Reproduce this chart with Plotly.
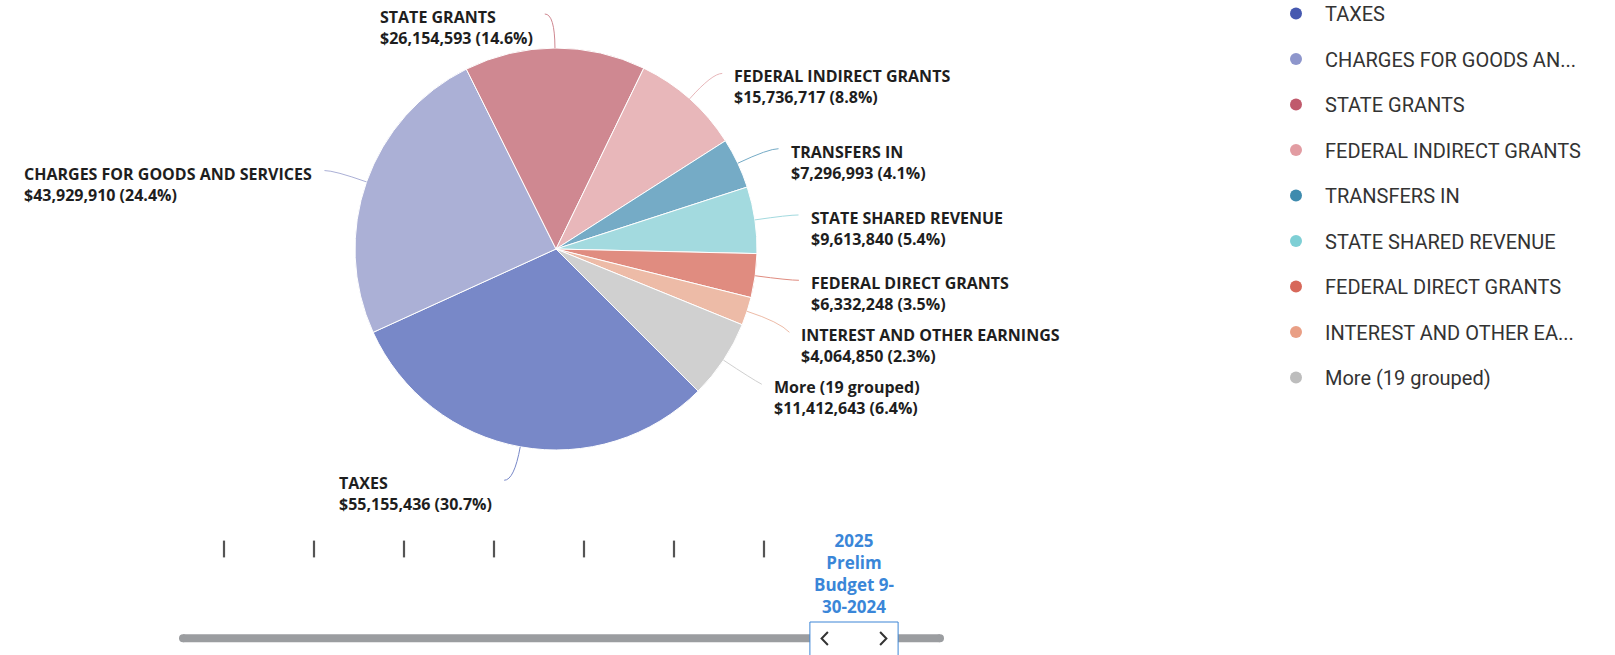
import math
import plotly.graph_objects as go

# revenue categories, FY2025 prelim budget
categories = [
    "TAXES",
    "CHARGES FOR GOODS AND SERVICES",
    "STATE GRANTS",
    "FEDERAL INDIRECT GRANTS",
    "TRANSFERS IN",
    "STATE SHARED REVENUE",
    "FEDERAL DIRECT GRANTS",
    "INTEREST AND OTHER EARNINGS",
    "More (19 grouped)",
]
amounts = [55155436, 43929910, 26154593, 15736717, 7296993, 9613840, 6332248, 4064850, 11412643]
legend_labels = [
    "TAXES",
    "CHARGES FOR GOODS AN...",
    "STATE GRANTS",
    "FEDERAL INDIRECT GRANTS",
    "TRANSFERS IN",
    "STATE SHARED REVENUE",
    "FEDERAL DIRECT GRANTS",
    "INTEREST AND OTHER EA...",
    "More (19 grouped)",
]
slice_colors = ["#7888C8", "#ABB0D6", "#CF8891", "#E8B7BA", "#75ABC6",
                "#A3DADF", "#E08C80", "#EDBBA7", "#D0D0D0"]
legend_colors = ["#4659B0", "#8E96CC", "#C05A6C", "#E29CA2", "#3E8BAE",
                 "#7ECFD5", "#D7685A", "#E99F85", "#BDBDBD"]

# timeline steps (only the selected one is labelled)
timeline_steps = ["", "", "", "", "", "", "", "2025<br>Prelim<br>Budget 9-<br>30-2024"]
selected_step = 7

W, H = 1615, 655
CX, CY, R = 556, 249, 201
START = 135  # degrees clockwise from 12 o'clock
MIN_GAP = 52  # min vertical spacing between stacked labels


# pixel -> paper fraction
def px(x):
    return x / W


def py(y):
    return 1 - y / H


total = sum(amounts)

fig = go.Figure()

fig.add_trace(go.Pie(
    labels=categories, values=amounts, sort=False, direction="clockwise",
    rotation=START, textinfo="none", showlegend=False,
    marker=dict(colors=slice_colors, line=dict(color="white", width=1)),
    domain=dict(x=[px(CX - R), px(CX + R)], y=[py(CY + R), py(CY - R)]),
))

# legend entries as dummy markers
for name, col in zip(legend_labels, legend_colors):
    fig.add_trace(go.Scatter(
        x=[None], y=[None], mode="markers", name=name, legendgroup=name,
        marker=dict(color=col, size=12), xaxis="x", yaxis="y",
    ))

# timeline ticks
tick_idx = [i for i in range(len(timeline_steps)) if i != selected_step]
fig.add_trace(go.Scatter(
    x=tick_idx, y=[549] * len(tick_idx), mode="markers", showlegend=False,
    hoverinfo="skip",
    marker=dict(symbol="line-ns", size=12, line=dict(width=2.2, color="#555555")),
))

shapes = []
annotations = []

# label anchor points from each slice's mid angle
labels = []
cum = 0
for name, val, col in zip(categories, amounts, slice_colors):
    mid = START + (cum + val / 2) / total * 360
    cum += val
    a = math.radians(mid)
    dx, dy = math.sin(a), -math.cos(a)
    labels.append(dict(name=name, val=val, col=col, dx=dx, dy=dy, right=dx > 0,
                       ly=CY + (R + 34) * dy))

# push overlapping labels down on each side
for side in (True, False):
    group = sorted([l for l in labels if l["right"] == side], key=lambda l: l["ly"])
    for prev, cur in zip(group, group[1:]):
        if cur["ly"] < prev["ly"] + MIN_GAP:
            cur["ly"] = prev["ly"] + MIN_GAP

for l in labels:
    sgn = 1 if l["right"] else -1
    x0, y0 = CX + R * l["dx"], CY + R * l["dy"]
    x1, y1 = CX + (R + 34) * l["dx"], CY + (R + 34) * l["dy"]
    x2, y2 = x1 + sgn * 10, l["ly"]
    shapes.append(dict(
        type="path", xref="paper", yref="paper",
        path=f"M {px(x0)},{py(y0)} Q {px(x1)},{py(y1)} {px(x2)},{py(y2)}",
        line=dict(color=l["col"], width=1),
    ))
    val = l["val"]
    txt = f"<b>{l['name']}</b><br><b>${val:,.0f} ({val / total * 100:.1f}%)</b>"
    annotations.append(dict(
        xref="paper", yref="paper", x=px(x2 + sgn * 10), y=py(y2 - 10),
        xanchor="left" if l["right"] else "right", yanchor="top", align="left",
        showarrow=False, text=txt,
        font=dict(family="Open Sans", size=16, color="#1e1e1e"),
    ))

# timeline track
shapes += [
    dict(type="rect", xref="x", yref="y", x0=-0.456, x1=7.956, y0=634.3, y1=642.3,
         fillcolor="#9B9DA0", line=dict(width=0), layer="below"),
    dict(type="circle", xref="x", yref="y", x0=-0.5, x1=-0.411, y0=634.3, y1=642.3,
         fillcolor="#9B9DA0", line=dict(width=0), layer="below"),
    dict(type="circle", xref="x", yref="y", x0=7.911, x1=8.0, y0=634.3, y1=642.3,
         fillcolor="#9B9DA0", line=dict(width=0), layer="below"),
    dict(type="rect", xref="x", yref="y", x0=selected_step - 0.49, x1=selected_step + 0.49,
         y0=622, y1=670, fillcolor="white", line=dict(color="#3D85D6", width=1)),
    dict(type="path", xref="x", yref="y",
         path=f"M {selected_step - 0.29},632 L {selected_step - 0.36},638.5 L {selected_step - 0.29},645",
         line=dict(color="#333333", width=2)),
    dict(type="path", xref="x", yref="y",
         path=f"M {selected_step + 0.29},632 L {selected_step + 0.36},638.5 L {selected_step + 0.29},645",
         line=dict(color="#333333", width=2)),
]

annotations.append(dict(
    xref="x", yref="y", x=selected_step, y=573.5, xanchor="center", yanchor="middle",
    showarrow=False, align="center", text=f"<b>{timeline_steps[selected_step]}</b>",
    font=dict(family="Open Sans", size=17, color="#3A86D8"),
))

fig.update_layout(
    width=W, height=H,
    margin=dict(l=0, r=0, t=0, b=0, autoexpand=False),
    paper_bgcolor="white", plot_bgcolor="white",
    xaxis=dict(domain=[px(179), px(944)], range=[-0.5, 8.0], visible=False, fixedrange=True),
    # y axis measured in pixels, top down
    yaxis=dict(domain=[0, 1], range=[H, 0], visible=False, fixedrange=True),
    shapes=shapes, annotations=annotations,
    legend=dict(
        x=px(1267), y=1.0091, xanchor="left", yanchor="top",
        traceorder="grouped", tracegroupgap=16.5, itemwidth=48, maxheight=640,
        font=dict(family="Roboto", size=20, color="#333333"),
        bgcolor="rgba(0,0,0,0)",
    ),
)

# drop the default page margin so the figure sits at the window's corner
fig.write_html("out.html", config={"displayModeBar": False},
               post_script="document.body.style.margin='0';")
